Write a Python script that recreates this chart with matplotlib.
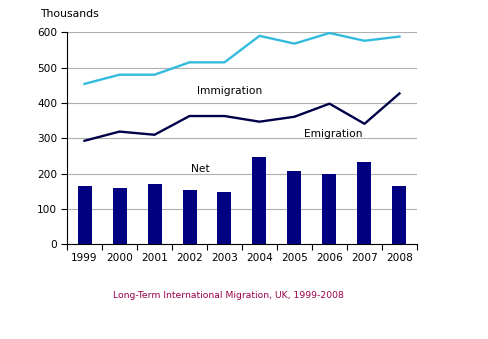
import matplotlib
matplotlib.use("Agg")
import matplotlib.pyplot as plt
import numpy as np

years = ["1999", "2000", "2001", "2002", "2003", "2004", "2005", "2006", "2007", "2008"]
immigration = [454, 480, 480, 515, 515, 590, 568, 598, 576, 588]
emigration = [293, 319, 310, 363, 363, 347, 361, 398, 341, 427]
net = [165, 160, 171, 154, 148, 247, 207, 200, 233, 165]

plt.rcParams['font.family'] = ['DejaVu Sans']

fig = plt.figure(figsize=(4.88, 3.39), dpi=100)
ax = fig.add_axes([0.1373, 0.2794, 0.7172, 0.6253])

x = np.arange(len(years))

# Net migration bars
ax.bar(x, net, width=0.4, color='#000080', zorder=2)

# Lines
ax.plot(x, immigration, color='#33BBDD', linewidth=1.7, zorder=3)
ax.plot(x, emigration, color='#000048', linewidth=1.7, zorder=3)

# Inline labels
ax.text(4.16, 435, "Immigration", fontsize=7.7, ha='center', va='center')
ax.text(7.1, 313, "Emigration", fontsize=7.7, ha='center', va='center')
ax.text(3.3, 213, "Net", fontsize=7.7, ha='center', va='center')

# Axes limits and grid
ax.set_xlim(-0.5, len(years) - 0.5)
ax.set_ylim(0, 600)
ax.set_yticks(np.arange(0, 601, 100))
ax.yaxis.grid(True, color='#B0B0B0', linewidth=0.8, zorder=0)
ax.set_axisbelow(True)

# Ticks at category boundaries, labels at centers
ax.set_xticks(np.arange(-0.5, len(years), 1.0))
ax.set_xticklabels([])
ax.set_xticks(x, minor=True)
ax.set_xticklabels(years, minor=True)
ax.tick_params(axis='x', which='minor', length=0, pad=6, labelsize=7.6)
ax.tick_params(axis='x', which='major', length=4, width=0.8, direction='out')
ax.tick_params(axis='y', length=4, width=0.8, labelsize=7.6, pad=3)

for side in ['top', 'right']:
    ax.spines[side].set_visible(False)
for side in ['left', 'bottom']:
    ax.spines[side].set_linewidth(0.8)

fig.text(40 / 488, 1 - 14 / 339, "Thousands", fontsize=7.8, ha='left', va='center')
fig.text(228 / 488, 1 - 296 / 339, "Long-Term International Migration, UK, 1999-2008",
         fontsize=6.7, color='#99004C', ha='center', va='center')

fig.savefig("out.png", dpi=100)
